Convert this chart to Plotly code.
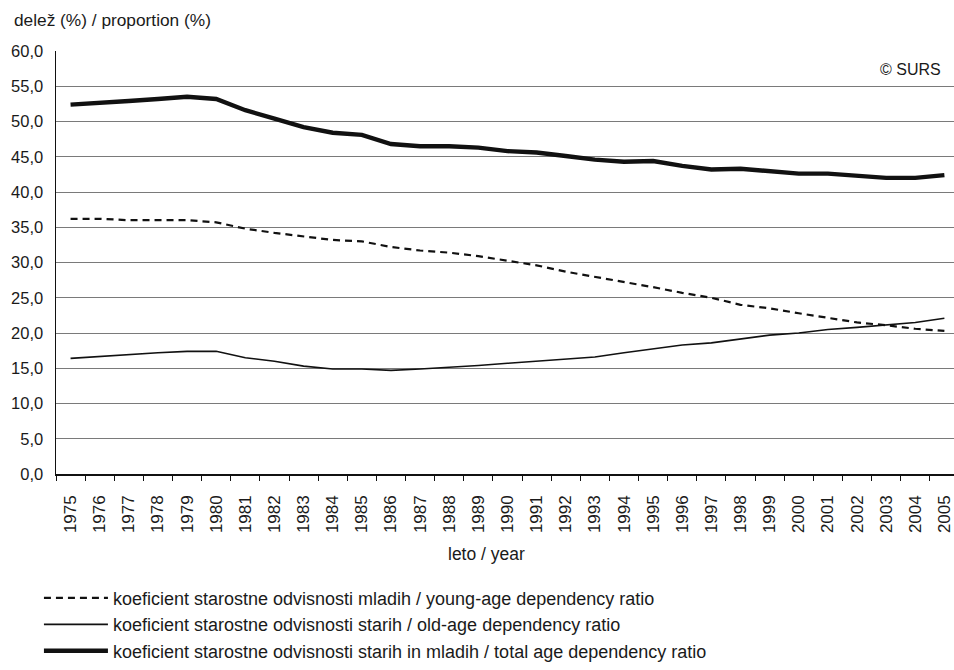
import plotly.graph_objects as go

years = [str(y) for y in range(1975, 2006)]

young = [36.2, 36.2, 36.0, 36.0, 36.0, 35.7, 34.8, 34.2, 33.7, 33.2,
         33.0, 32.2, 31.7, 31.4, 30.9, 30.3, 29.6, 28.7, 28.0, 27.2,
         26.5, 25.7, 25.0, 24.0, 23.5, 22.8, 22.2, 21.5, 21.1, 20.6, 20.3]

old = [16.4, 16.7, 16.9, 17.2, 17.4, 17.4, 16.5, 16.0, 15.3, 14.9,
       14.9, 14.7, 14.9, 15.1, 15.4, 15.7, 16.0, 16.4, 16.6, 17.2,
       17.7, 18.3, 18.6, 19.2, 19.7, 20.0, 20.5, 20.8, 21.2, 21.5, 22.1]

total = [52.4, 52.6, 52.9, 53.2, 53.5, 53.2, 51.6, 50.4, 49.2, 48.4,
         48.1, 46.8, 46.5, 46.5, 46.3, 45.8, 45.6, 45.1, 44.6, 44.3,
         44.4, 43.7, 43.2, 43.3, 43.0, 42.6, 42.6, 42.3, 42.0, 42.0, 42.4]

names = [
    "koeficient starostne odvisnosti mladih / young-age dependency ratio",
    "koeficient starostne odvisnosti starih / old-age dependency ratio",
    "koeficient starostne odvisnosti starih in mladih / total age dependency ratio",
]

y_ticks = [0, 5, 10, 15, 20, 25, 30, 35, 40, 45, 50, 55, 60]

FONT = "Liberation Sans, Arial, sans-serif"
TXT = "#1a1a1a"

fig = go.Figure()
fig.add_trace(go.Scatter(x=years, y=young, mode="lines", name=names[0],
                         legendgroup="a",
                         line=dict(color="#111111", width=2.2, dash="7px,5px")))
fig.add_trace(go.Scatter(x=years, y=old, mode="lines", name=names[1],
                         legendgroup="b",
                         line=dict(color="#111111", width=1.6)))
fig.add_trace(go.Scatter(x=years, y=total, mode="lines", name=names[2],
                         legendgroup="c",
                         line=dict(color="#111111", width=4.4)))

fig.update_layout(
    width=954, height=670,
    margin=dict(l=56, r=0, t=51, b=188),
    paper_bgcolor="white", plot_bgcolor="white",
    separators=",.",
    font=dict(family=FONT, size=17, color=TXT),
    showlegend=True,
    legend=dict(
        orientation="v", x=-0.019, xanchor="left", y=-0.25, yanchor="top",
        font=dict(family=FONT, size=18, color=TXT),
        itemwidth=64, tracegroupgap=0, bgcolor="rgba(0,0,0,0)",
        itemclick=False, itemdoubleclick=False,
    ),
    annotations=[
        dict(text="delež (%) / proportion (%)", xref="paper", yref="paper",
             x=-0.049, y=1.074, xanchor="left", yanchor="middle",
             showarrow=False, font=dict(family=FONT, size=17.3, color=TXT)),
        dict(text="© SURS", xref="paper", yref="paper",
             x=0.988, y=0.956, xanchor="right", yanchor="middle",
             showarrow=False, font=dict(family=FONT, size=16, color=TXT)),
        dict(text="leto / year", xref="paper", yref="paper",
             x=0.479, y=-0.188, xanchor="center", yanchor="middle",
             showarrow=False, font=dict(family=FONT, size=17.5, color=TXT)),
    ],
)

fig.update_xaxes(
    type="category", range=[-0.5, 30.33],
    showgrid=False, showline=True, linecolor="#111111", linewidth=1.5,
    ticks="outside", tickson="boundaries", ticklen=5, tickcolor="#111111",
    tickangle=-90, ticklabelstandoff=13,
    tickfont=dict(family=FONT, size=17, color=TXT),
    zeroline=False,
)
fig.update_yaxes(
    range=[0, 60], tickvals=y_ticks, tickformat=".1f",
    showgrid=True, gridcolor="#7a7a7a", gridwidth=1,
    showline=True, linecolor="#111111", linewidth=1.5,
    ticks="", ticklabelstandoff=8,
    tickfont=dict(family=FONT, size=16.5, color=TXT),
    zeroline=False,
)

post = (
    "document.documentElement.style.margin='0';"
    "document.documentElement.style.overflow='hidden';"
    "document.body.style.margin='0';"
    "document.body.style.padding='0';"
    "document.body.style.overflow='hidden';"
)

fig.write_html("out.html", post_script=post,
               config={"displayModeBar": False, "staticPlot": True})
